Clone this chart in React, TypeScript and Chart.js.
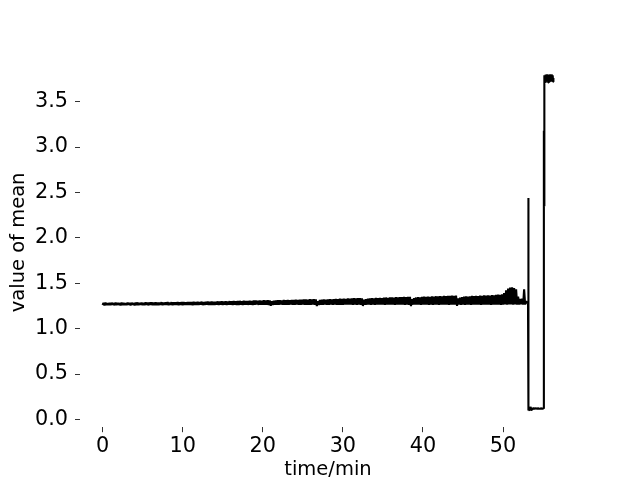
import React, { useEffect, useRef } from "react";
import { Chart, registerables } from "chart.js";

Chart.register(...registerables);

// Steady-phase samples: one row per minute, eight samples per row (every 7.5 s)
const steadyRows: number[][] = [
  [1.261, 1.282, 1.258, 1.286, 1.260, 1.280, 1.262, 1.284],
  [1.259, 1.285, 1.263, 1.281, 1.258, 1.287, 1.261, 1.283],
  [1.262, 1.282, 1.257, 1.286, 1.261, 1.284, 1.259, 1.281],
  [1.260, 1.287, 1.262, 1.283, 1.258, 1.285, 1.263, 1.282],
  [1.257, 1.286, 1.261, 1.288, 1.260, 1.283, 1.262, 1.287],
  [1.261, 1.284, 1.259, 1.289, 1.263, 1.286, 1.258, 1.288],
  [1.262, 1.290, 1.260, 1.285, 1.261, 1.289, 1.259, 1.287],
  [1.259, 1.288, 1.263, 1.291, 1.260, 1.286, 1.262, 1.290],
  [1.261, 1.292, 1.258, 1.287, 1.262, 1.291, 1.260, 1.289],
  [1.263, 1.289, 1.261, 1.293, 1.259, 1.290, 1.262, 1.292],
  [1.260, 1.294, 1.262, 1.290, 1.261, 1.293, 1.263, 1.291],
  [1.262, 1.292, 1.259, 1.295, 1.263, 1.293, 1.261, 1.296],
  [1.261, 1.294, 1.264, 1.297, 1.260, 1.293, 1.262, 1.296],
  [1.263, 1.298, 1.261, 1.295, 1.262, 1.299, 1.260, 1.296],
  [1.262, 1.297, 1.264, 1.300, 1.261, 1.298, 1.263, 1.301],
  [1.260, 1.300, 1.263, 1.302, 1.262, 1.299, 1.264, 1.303],
  [1.263, 1.301, 1.261, 1.304, 1.264, 1.302, 1.262, 1.305],
  [1.262, 1.306, 1.265, 1.303, 1.261, 1.307, 1.263, 1.304],
  [1.264, 1.305, 1.262, 1.308, 1.265, 1.306, 1.261, 1.309],
  [1.263, 1.310, 1.265, 1.307, 1.262, 1.311, 1.264, 1.308],
  [1.262, 1.312, 1.264, 1.309, 1.263, 1.313, 1.261, 1.311],
  [1.251, 1.301, 1.262, 1.307, 1.264, 1.310, 1.263, 1.312],
  [1.262, 1.313, 1.265, 1.311, 1.263, 1.315, 1.264, 1.312],
  [1.264, 1.316, 1.262, 1.314, 1.265, 1.317, 1.263, 1.315],
  [1.263, 1.319, 1.265, 1.316, 1.262, 1.320, 1.264, 1.318],
  [1.265, 1.321, 1.263, 1.323, 1.264, 1.320, 1.262, 1.324],
  [1.263, 1.322, 1.265, 1.325, 1.264, 1.321, 1.250, 1.303],
  [1.261, 1.315, 1.264, 1.319, 1.263, 1.321, 1.265, 1.318],
  [1.264, 1.323, 1.262, 1.325, 1.265, 1.322, 1.263, 1.326],
  [1.265, 1.328, 1.263, 1.325, 1.264, 1.329, 1.262, 1.327],
  [1.263, 1.330, 1.265, 1.328, 1.264, 1.332, 1.266, 1.329],
  [1.264, 1.333, 1.262, 1.335, 1.265, 1.332, 1.263, 1.336],
  [1.265, 1.337, 1.263, 1.334, 1.250, 1.318, 1.262, 1.325],
  [1.264, 1.331, 1.266, 1.334, 1.263, 1.336, 1.265, 1.333],
  [1.263, 1.338, 1.265, 1.336, 1.264, 1.340, 1.266, 1.337],
  [1.265, 1.341, 1.263, 1.343, 1.266, 1.340, 1.264, 1.344],
  [1.264, 1.345, 1.266, 1.342, 1.263, 1.346, 1.265, 1.344],
  [1.266, 1.348, 1.264, 1.346, 1.265, 1.350, 1.263, 1.347],
  [1.265, 1.351, 1.263, 1.349, 1.249, 1.325, 1.264, 1.337],
  [1.266, 1.343, 1.264, 1.347, 1.265, 1.345, 1.263, 1.350],
  [1.264, 1.352, 1.266, 1.349, 1.265, 1.354, 1.263, 1.351],
  [1.265, 1.356, 1.263, 1.353, 1.266, 1.357, 1.264, 1.355],
  [1.263, 1.359, 1.265, 1.356, 1.264, 1.361, 1.266, 1.358],
  [1.265, 1.362, 1.263, 1.360, 1.266, 1.364, 1.264, 1.361],
  [1.264, 1.365, 1.250, 1.333, 1.265, 1.343, 1.263, 1.348],
  [1.265, 1.352, 1.263, 1.355, 1.266, 1.353, 1.264, 1.357],
  [1.263, 1.360, 1.265, 1.358, 1.264, 1.362, 1.266, 1.359],
  [1.265, 1.364, 1.263, 1.362, 1.266, 1.366, 1.264, 1.363],
  [1.264, 1.368, 1.266, 1.365, 1.263, 1.370, 1.265, 1.367],
  [1.266, 1.372, 1.264, 1.375, 1.265, 1.373, 1.263, 1.378],
  [1.265, 1.393, 1.267, 1.423, 1.264, 1.443, 1.266, 1.453],
  [1.267, 1.455, 1.265, 1.448, 1.266, 1.433, 1.264, 1.353],
  [1.265, 1.328, 1.267, 1.331, 1.264, 1.433, 1.266, 1.303],
];

// Final phase (irregular sampling): times in minutes and values
const tailTimes: number[] = [
  52.95, 53.05, 53.11, 53.12, 53.13, 53.18, 53.22, 53.26, 53.3, 53.34, 53.38,
  53.42, 53.47, 53.52, 53.57, 53.62, 53.67, 53.72, 53.8, 53.9, 54.0, 54.1, 54.2,
  54.3, 54.4, 54.5, 54.6, 54.7, 54.8, 54.9, 55.0, 55.08, 55.1, 55.11, 55.12,
  55.14, 55.19, 55.24, 55.29, 55.34, 55.39, 55.44, 55.49, 55.54, 55.59, 55.64,
  55.69, 55.74, 55.79, 55.84, 55.89, 55.94, 55.99, 56.04, 56.09, 56.14, 56.19,
  56.24, 56.28,
];
const tailValues: number[] = [
  1.28, 1.29, 1.3, 2.44, 0.13, 0.1, 0.145, 0.105, 0.14, 0.1, 0.14, 0.11, 0.135,
  0.105, 0.13, 0.11, 0.13, 0.112, 0.128, 0.115, 0.126, 0.116, 0.125, 0.117,
  0.124, 0.118, 0.123, 0.118, 0.124, 0.117, 0.122, 0.12, 3.18, 2.35, 3.77, 3.71,
  3.79, 3.72, 3.8, 3.71, 3.78, 3.72, 3.8, 3.73, 3.79, 3.71, 3.8, 3.72, 3.79,
  3.72, 3.8, 3.73, 3.79, 3.72, 3.8, 3.73, 3.79, 3.72, 3.76,
];

const xTicks: number[] = [0, 10, 20, 30, 40, 50];
const yTicks: number[] = [0, 0.5, 1.0, 1.5, 2.0, 2.5, 3.0, 3.5];

const xLabel = "time/min";
const yLabel = "value of mean";

const FONT = "'DejaVu Sans', sans-serif";

export default function App() {
  const canvasRef = useRef<HTMLCanvasElement | null>(null);

  useEffect(() => {
    const canvas = canvasRef.current;
    if (!canvas) return;

    const points: { x: number; y: number }[] = [];
    steadyRows.forEach((row, m) => {
      row.forEach((v, i) => points.push({ x: m + i / row.length, y: v }));
    });
    tailTimes.forEach((t, i) => points.push({ x: t, y: tailValues[i] }));

    const chart = new Chart(canvas, {
      type: "line",
      data: {
        datasets: [
          {
            data: points,
            borderColor: "#000",
            borderWidth: 2.1,
            borderJoinStyle: "bevel",
            borderCapStyle: "butt",
            pointRadius: 0,
            tension: 0,
            fill: false,
          },
        ],
      },
      options: {
        animation: false,
        responsive: false,
        events: [],
        layout: { padding: { left: 0, top: 57.6, right: 64, bottom: 0 } },
        plugins: { legend: { display: false }, tooltip: { enabled: false } },
        scales: {
          x: {
            type: "linear",
            min: -2.81,
            max: 59.1,
            afterBuildTicks: (axis: any) => {
              axis.ticks = xTicks.map((v) => ({ value: v }));
            },
            afterFit: (axis: any) => {
              axis.height = 52.8;
            },
            border: { display: false },
            grid: {
              display: true,
              drawOnChartArea: false,
              drawTicks: true,
              tickLength: 5,
              tickColor: "#333",
              lineWidth: 1,
            },
            ticks: {
              color: "#000",
              padding: 2,
              maxRotation: 0,
              font: { family: FONT, size: 20.8 },
              callback: (v: any) => String(v),
            },
            title: {
              display: true,
              text: xLabel,
              color: "#000",
              font: { family: FONT, size: 19.5, lineHeight: 1 },
              padding: { top: 0, bottom: 0 },
            },
          },
          y: {
            type: "linear",
            min: -0.085,
            max: 3.985,
            afterBuildTicks: (axis: any) => {
              axis.ticks = yTicks.map((v) => ({ value: v }));
            },
            afterFit: (axis: any) => {
              axis.width = 80;
            },
            border: { display: false },
            grid: {
              display: true,
              drawOnChartArea: false,
              drawTicks: true,
              tickLength: 5,
              tickColor: "#333",
              lineWidth: 1,
            },
            ticks: {
              color: "#000",
              padding: 7,
              font: { family: FONT, size: 20.8 },
              callback: (v: any) => Number(v).toFixed(1),
            },
            title: {
              display: true,
              text: yLabel,
              color: "#000",
              font: { family: FONT, size: 19.5, lineHeight: 1 },
              padding: { top: 9, bottom: 0 },
            },
          },
        },
      },
    });

    return () => chart.destroy();
  }, []);

  return (
    <div
      style={{
        position: "fixed",
        left: 0,
        top: 0,
        width: 640,
        height: 480,
        background: "#fff",
      }}
    >
      <canvas ref={canvasRef} width={640} height={480} />
    </div>
  );
}
